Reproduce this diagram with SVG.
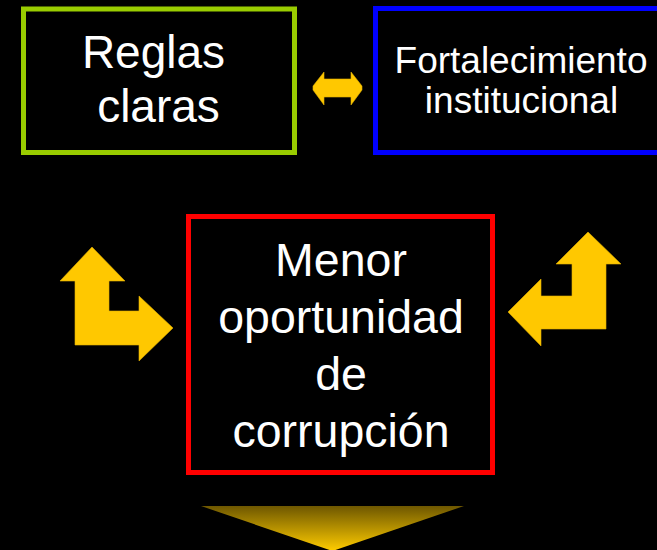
<svg xmlns="http://www.w3.org/2000/svg" width="657" height="550" viewBox="0 0 657 550">
<style>
.t{font-family:"Liberation Sans",Arial,sans-serif;fill:#ffffff;text-anchor:middle}
.box{fill:#000000;stroke-width:5}
.arr{fill:#FFC800;stroke:#E0B000;stroke-width:0.6}
</style>
<defs>
<linearGradient id="g" x1="0" y1="0" x2="0" y2="1">
<stop offset="0" stop-color="#6e5700"/>
<stop offset="1" stop-color="#FFCC00"/>
</linearGradient>
</defs>
<rect width="657" height="550" fill="#000000"/>
<g id="reglas">
<rect class="box" x="23.5" y="9" width="271" height="143.5" stroke="#99CC00"/>
<text class="t" font-size="46" x="153.5" y="68">Reglas</text>
<text class="t" font-size="46" x="158.5" y="122">claras</text>
</g>
<g id="fortalecimiento">
<rect class="box" x="375.5" y="8.5" width="300" height="144" stroke="#0000FF"/>
<text class="t" font-size="37" x="521" y="73">Fortalecimiento</text>
<text class="t" font-size="37" x="521.5" y="113">institucional</text>
</g>
<g id="menor">
<rect class="box" x="188.5" y="216.5" width="304" height="256" stroke="#FF0000"/>
<text class="t" font-size="46.5" x="341" y="276">Menor</text>
<text class="t" font-size="46.5" x="341" y="333">oportunidad</text>
<text class="t" font-size="46.5" x="341" y="390">de</text>
<text class="t" font-size="46.5" x="341" y="447">corrupción</text>
</g>
<g id="connectors">
<polygon class="arr" points="313,86 324,72 324,79 351,79 351,72 362,86 362,90 351,105 351,97 324,97 324,105 313,90"/>
<polygon class="arr" points="92,247 125,281 109,281 109,311 139,311 139,296 173,328 139,361 139,345 75,345 75,281 60,281"/>
<polygon class="arr" points="588,232 621,264 606,264 606,329 541,329 541,346 508,312 541,279 541,296 572,296 572,264 556,264"/>
<polygon points="201,506 464,506 332.5,551" fill="url(#g)"/>
</g>
</svg>
